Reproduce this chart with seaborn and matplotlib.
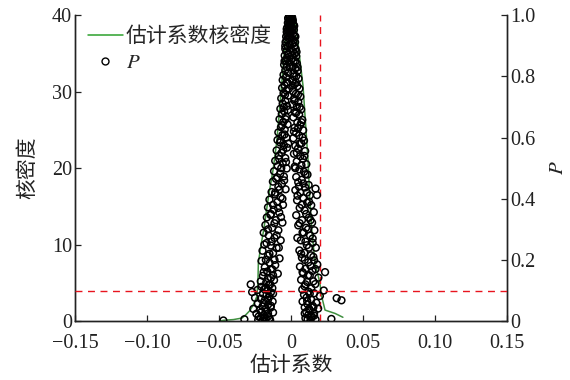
import matplotlib
matplotlib.use("Agg")
import matplotlib.pyplot as plt
import seaborn as sns
import numpy as np
import pandas as pd
from matplotlib.lines import Line2D

# Kernel density of the estimated coefficients
kde_coef = [-0.050, -0.047, -0.040, -0.034, -0.031, -0.0285, -0.026, -0.0238, -0.023,
            -0.0227, -0.021, -0.019, -0.0158, -0.0123, -0.0099, -0.0065, -0.004, -0.002,
            0.000, 0.001, 0.003, 0.005, 0.0083, 0.0118, 0.013, 0.0144, 0.0167, 0.020,
            0.0213, 0.0236, 0.0306, 0.036]
kde_density = [0.0, 0.1, 0.2, 0.4, 0.9, 1.4, 2.2, 3.2, 5.0,
               7.6, 9.8, 11.9, 16.1, 20.0, 23.5, 31.0, 36.5, 39.0,
               39.8, 39.9, 39.3, 36.0, 30.8, 21.0, 16.0, 11.9, 7.6, 5.0,
               3.2, 1.44, 1.0, 0.5]

# Estimated coefficients and their P values (negative side)
coef_neg = [-0.0012, -0.0008, -0.0018, -0.0005, -0.0014, -0.0022, -0.0009, -0.0017, -0.0026,
            -0.0006, -0.0020, -0.0030, -0.0012, -0.0025, -0.0034, -0.0016, -0.0029, -0.0038,
            -0.0010, -0.0024, -0.0040, -0.0032, -0.0018, -0.0044, -0.0028, -0.0036, -0.0015,
            -0.0048, -0.0030, -0.0040, -0.0020, -0.0052, -0.0035, -0.0058, -0.0025, -0.0045,
            -0.0062, -0.0033, -0.0052, -0.0020, -0.0068, -0.0040, -0.0058, -0.0028, -0.0074,
            -0.0048, -0.0064, -0.0035, -0.0080, -0.0054, -0.0024, -0.0070, -0.0044, -0.0088,
            -0.0060, -0.0032,
            -0.0094, -0.0076, -0.0050, -0.0028, -0.0100, -0.0066, -0.0084, -0.0040, -0.0110,
            -0.0058, -0.0092, -0.0030, -0.0118, -0.0075, -0.0050, -0.0104, -0.0126, -0.0064,
            -0.0088, -0.0038, -0.0135, -0.0112, -0.0072,
            -0.0150, -0.0095, -0.0056, -0.0160, -0.0120, -0.0082, -0.0142, -0.0168, -0.0105,
            -0.0060, -0.0178, -0.0130, -0.0088, -0.0190, -0.0155, -0.0115, -0.0072, -0.0170,
            -0.0140, -0.0100, -0.0198, -0.0125, -0.0160, -0.0080,
            -0.0205, -0.0148, -0.0110, -0.0182, -0.0130, -0.0165, -0.0092, -0.0195, -0.0140,
            -0.0118, -0.0172, -0.0280, -0.0155, -0.0205, -0.0130, -0.0185, -0.0160, -0.0232,
            -0.0140, -0.0195, -0.0170, -0.0250, -0.0150, -0.0210, -0.0182, -0.0128, -0.0230,
            -0.0160, -0.0198, -0.0142, -0.0262, -0.0215, -0.0175, -0.0125, -0.0240, -0.0190,
            -0.0158, -0.0210, -0.0175, -0.0324, -0.0228, -0.0470, -0.0145, -0.0200,
            -0.0020, -0.0004, -0.0030, -0.0008, -0.0040, -0.0020, -0.0045, -0.0010,
            -0.0030, -0.0042, -0.0015, -0.0050, -0.0022, -0.0038, -0.0062, -0.0045, -0.0072,
            -0.0020, -0.0055, -0.0082, -0.0035, -0.0068, -0.0095, -0.0048, -0.0080, -0.0110,
            -0.0060, -0.0125, -0.0090, -0.0140, -0.0070, -0.0115, -0.0160, -0.0100, -0.0135,
            -0.0185, -0.0085, -0.0150, -0.0175, -0.0115, -0.0140, -0.0190, -0.0125, -0.0160,
            -0.0210, -0.0145, -0.0175, -0.0125, -0.0160, -0.0190, -0.0140, -0.0175, -0.0205,
            -0.0160, -0.0185, -0.0150, -0.0225, -0.0270]
p_neg = [1.000, 0.995, 0.990, 0.985, 0.980, 0.975, 0.970, 0.965, 0.960,
         0.955, 0.950, 0.945, 0.940, 0.935, 0.930, 0.925, 0.920, 0.912,
         0.905, 0.898, 0.890, 0.882, 0.875, 0.868, 0.860, 0.852, 0.845,
         0.838, 0.830, 0.820, 0.812, 0.805, 0.797, 0.788, 0.780, 0.771,
         0.762, 0.754, 0.745, 0.737, 0.728, 0.720, 0.711, 0.703, 0.694,
         0.686, 0.677, 0.668, 0.660, 0.651, 0.643, 0.634, 0.626, 0.617,
         0.608, 0.600,
         0.592, 0.584, 0.575, 0.567, 0.558, 0.550, 0.541, 0.533, 0.524,
         0.516, 0.507, 0.499, 0.490, 0.482, 0.473, 0.465, 0.456, 0.448,
         0.439, 0.431, 0.422, 0.414, 0.405,
         0.397, 0.389, 0.380, 0.372, 0.364, 0.355, 0.347, 0.339, 0.330,
         0.322, 0.314, 0.305, 0.297, 0.289, 0.280, 0.272, 0.264, 0.255,
         0.247, 0.239, 0.230, 0.222, 0.214, 0.205,
         0.197, 0.190, 0.183, 0.176, 0.169, 0.162, 0.155, 0.148, 0.141,
         0.134, 0.127, 0.120, 0.118, 0.112, 0.108, 0.104, 0.100, 0.102,
         0.094, 0.090, 0.086, 0.076, 0.080, 0.073, 0.068, 0.064, 0.058,
         0.054, 0.048, 0.044, 0.040, 0.036, 0.032, 0.028, 0.024, 0.020,
         0.016, 0.011, 0.007, 0.006, 0.004, 0.002, 0.003, 0.001,
         0.990, 0.975, 0.955, 0.930, 0.900, 0.870, 0.850, 0.830,
         0.780, 0.740, 0.760, 0.700, 0.690, 0.660, 0.640, 0.610, 0.590,
         0.580, 0.560, 0.530, 0.520, 0.500, 0.470, 0.460, 0.430, 0.420,
         0.400, 0.380, 0.370, 0.350, 0.340, 0.320, 0.300, 0.280, 0.260,
         0.250, 0.240, 0.220, 0.200, 0.200, 0.170, 0.160, 0.150, 0.140,
         0.130, 0.120, 0.110, 0.090, 0.070, 0.060, 0.050, 0.040, 0.030,
         0.025, 0.012, 0.009, 0.015, 0.095]

# Estimated coefficients and their P values (positive side)
coef_pos = [0.0002, 0.0008, -0.0002, 0.0012, 0.0004, 0.0016, 0.0000, 0.0010, 0.0020,
            0.0005, 0.0014, 0.0024, 0.0002, 0.0018, 0.0028, 0.0008, 0.0022, 0.0032,
            0.0012, 0.0026, 0.0036, 0.0004, 0.0018,
            0.0040, 0.0010, 0.0030, 0.0046, 0.0016, 0.0036, 0.0052, 0.0008, 0.0026,
            0.0044, 0.0058, 0.0014, 0.0034, 0.0064, 0.0022, 0.0050, 0.0010, 0.0040,
            0.0070, 0.0028, 0.0056, 0.0016, 0.0078, 0.0044, 0.0064, 0.0024, 0.0084,
            0.0036, 0.0056,
            0.0016, 0.0090, 0.0072, 0.0030, 0.0048, 0.0098, 0.0020, 0.0064, 0.0082,
            0.0040, 0.0106, 0.0026, 0.0058, 0.0090, 0.0114, 0.0036, 0.0074, 0.0050,
            0.0122, 0.0098, 0.0030, 0.0064, 0.0170, 0.0180, 0.0130, 0.0084,
            0.0042, 0.0112, 0.0140, 0.0060, 0.0094, 0.0158, 0.0036, 0.0124, 0.0076,
            0.0146, 0.0050, 0.0104, 0.0162, 0.0088, 0.0132, 0.0044, 0.0068, 0.0150,
            0.0110, 0.0172, 0.0058, 0.0092, 0.0138, 0.0076,
            0.0160, 0.0120, 0.0182, 0.0062, 0.0100, 0.0148, 0.0236, 0.0084, 0.0130,
            0.0190, 0.0070, 0.0112, 0.0168, 0.0094, 0.0140, 0.0227, 0.0078,
            0.0122, 0.0160, 0.0090, 0.0200, 0.0108, 0.0317, 0.0350, 0.0140, 0.0080,
            0.0175, 0.0115, 0.0150, 0.0095, 0.0188, 0.0130, 0.0106, 0.0160, 0.0120,
            0.0145, 0.0100, 0.0280, 0.0170, 0.0135,
            0.0010, 0.0022, -0.0004, 0.0030, 0.0015, 0.0038, 0.0008, 0.0030, 0.0045,
            0.0020, 0.0035, 0.0012, 0.0048, 0.0025, 0.0060, 0.0035, 0.0072, 0.0048,
            0.0020, 0.0080, 0.0060, 0.0040, 0.0092, 0.0072, 0.0030, 0.0100, 0.0085,
            0.0055, 0.0110, 0.0045, 0.0125, 0.0075, 0.0105, 0.0135, 0.0060, 0.0118,
            0.0080, 0.0150, 0.0100, 0.0125, 0.0070, 0.0155, 0.0095, 0.0135, 0.0170,
            0.0080, 0.0118, 0.0155, 0.0100, 0.0130, 0.0112, 0.0155, 0.0125, 0.0095,
            0.0140, 0.0115, 0.0160]
p_pos = [0.998, 0.992, 0.987, 0.982, 0.976, 0.970, 0.964, 0.958, 0.952,
         0.946, 0.940, 0.933, 0.926, 0.919, 0.912, 0.905, 0.898, 0.890,
         0.882, 0.874, 0.866, 0.858, 0.850,
         0.842, 0.834, 0.826, 0.818, 0.810, 0.801, 0.793, 0.785, 0.776,
         0.768, 0.760, 0.751, 0.743, 0.734, 0.726, 0.717, 0.709, 0.700,
         0.692, 0.683, 0.675, 0.666, 0.658, 0.649, 0.641, 0.632, 0.624,
         0.615, 0.607,
         0.598, 0.590, 0.581, 0.573, 0.564, 0.556, 0.547, 0.539, 0.530,
         0.522, 0.513, 0.505, 0.496, 0.488, 0.479, 0.471, 0.462, 0.454,
         0.445, 0.437, 0.428, 0.420, 0.433, 0.412, 0.411, 0.403,
         0.395, 0.387, 0.379, 0.370, 0.362, 0.356, 0.346, 0.338, 0.330,
         0.322, 0.313, 0.305, 0.297, 0.289, 0.280, 0.272, 0.264, 0.256,
         0.248, 0.240, 0.231, 0.223, 0.215, 0.207,
         0.199, 0.192, 0.185, 0.178, 0.171, 0.164, 0.160, 0.156, 0.149,
         0.142, 0.135, 0.128, 0.121, 0.114, 0.107, 0.100, 0.103,
         0.096, 0.091, 0.086, 0.082, 0.077, 0.075, 0.068, 0.070, 0.064,
         0.060, 0.055, 0.050, 0.045, 0.041, 0.036, 0.030, 0.026, 0.020,
         0.015, 0.010, 0.007, 0.005, 0.002,
         0.985, 0.965, 0.950, 0.930, 0.910, 0.880, 0.870, 0.850, 0.830,
         0.800, 0.780, 0.770, 0.740, 0.720, 0.700, 0.680, 0.650, 0.630,
         0.620, 0.600, 0.580, 0.550, 0.540, 0.510, 0.500, 0.480, 0.450,
         0.440, 0.420, 0.410, 0.390, 0.380, 0.350, 0.330, 0.320, 0.300,
         0.290, 0.270, 0.260, 0.240, 0.220, 0.210, 0.200, 0.180, 0.170,
         0.160, 0.150, 0.130, 0.120, 0.090, 0.065, 0.045, 0.040, 0.025,
         0.012, 0.006, 0.018]

x_ticks = [-0.15, -0.10, -0.05, 0.0, 0.05, 0.10, 0.15]
x_tick_labels = ["\u22120.15", "\u22120.10", "\u22120.05", "0", "0.05", "0.10", "0.15"]
left_ticks = [0, 10, 20, 30, 40]
right_ticks = [0, 0.2, 0.4, 0.6, 0.8, 1.0]
right_tick_labels = ["0", "0.2", "0.4", "0.6", "0.8", "1.0"]

cutoff_coef = 0.02
cutoff_p = 0.1

sns.set_style("ticks")
plt.rcParams["font.family"] = ["Liberation Serif", "Noto Sans CJK SC"]
plt.rcParams["mathtext.fontset"] = "stix"
plt.rcParams["axes.unicode_minus"] = True

green = "#3f8f3f"
axis_col = "#222222"

fig = plt.figure(figsize=(5.7, 3.8), dpi=100)
ax = fig.add_axes([0.1316, 0.155, 0.758, 0.805])
ax2 = ax.twinx()

kde_df = pd.DataFrame({"coef": kde_coef, "density": kde_density})
sns.lineplot(data=kde_df, x="coef", y="density", ax=ax, color=green,
             linewidth=1.1, sort=False, legend=False)

pts = pd.DataFrame({"coef": coef_neg + coef_pos, "p": p_neg + p_pos})
sns.scatterplot(data=pts, x="coef", y="p", ax=ax2, marker="o", s=24,
                facecolor="none", edgecolor="black", linewidth=1.1,
                legend=False, zorder=3)

ax.axvline(cutoff_coef, color="#e8141e", linestyle=(0, (5, 4)), linewidth=1.0, zorder=4)
ax2.axhline(cutoff_p, color="#e8141e", linestyle=(0, (5, 4)), linewidth=1.0, zorder=4)

ax.set_xlim(-0.15, 0.15)
ax.set_ylim(0, 40)
ax2.set_ylim(0, 1.0)

ax.set_xticks(x_ticks)
ax.set_xticklabels(x_tick_labels)
ax.set_yticks(left_ticks)
ax2.set_yticks(right_ticks)
ax2.set_yticklabels(right_tick_labels)

for a in (ax, ax2):
    a.tick_params(direction="in", length=4, width=0.9, labelsize=14.5,
                  colors=axis_col, pad=2)
    a.spines["top"].set_visible(False)
    for s in ("left", "right", "bottom"):
        a.spines[s].set_color(axis_col)
        a.spines[s].set_linewidth(1.0)
ax.tick_params(axis="x", pad=9)

ax.set_xlabel("估计系数", fontsize=15, color="#222222", labelpad=3)
ax.set_ylabel("核密度", fontsize=15, color="#222222", labelpad=10)
ax2.set_ylabel("$P$", fontsize=15, color="#222222", labelpad=10)

handles = [Line2D([0], [0], color="#2ca02c", linewidth=1.1),
           Line2D([0], [0], marker="o", linestyle="none", markersize=5,
                  markerfacecolor="none", markeredgecolor="black", markeredgewidth=1.0)]
ax2.legend(handles, ["估计系数核密度", "$P$"], loc="upper left",
           bbox_to_anchor=(0.0, 1.0), frameon=False, fontsize=15,
           handlelength=1.7, handletextpad=0.15, labelspacing=0.3,
           borderaxespad=0.2)

fig.savefig("out.png", dpi=100)
